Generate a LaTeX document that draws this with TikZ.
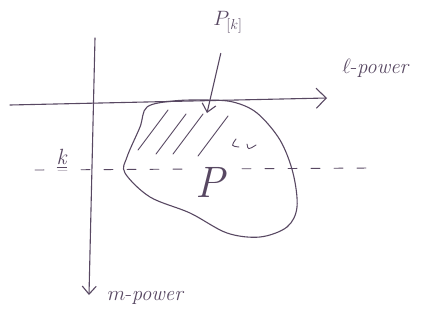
\documentclass[tikz,border=0pt]{standalone}
\usepackage{amsmath,amssymb}
\usepackage{tikz}
\usetikzlibrary{arrows.meta,positioning}
\usepackage{xcolor}
\definecolor{pen}{RGB}{88,72,98}

\begin{document}
\begin{tikzpicture}[
  x=1pt, y=-1pt,
  stroke/.style={draw=pen, line width=1.1pt, line cap=round, line join=round},
  axis/.style={stroke, -{Straight Barb[length=10pt,width=20pt,line width=1.1pt]}},
  hatch/.style={draw=pen, line width=0.9pt, line cap=round},
  handlabel/.style={text=pen, font=\huge, inner sep=1pt},
]
\useasboundingbox (0,0) rectangle (430,326);

% axes
\coordinate (hstart) at (10,105);
\coordinate (hend) at (327,98);
\coordinate (vstart) at (95,38);
\coordinate (vend) at (89,295);
\draw[axis] (hstart) -- (hend);
\draw[stroke, -{Straight Barb[length=8pt,width=14pt,line width=1.1pt]}] (vstart) -- (vend);
\node[handlabel] (lpower) at (376,68) {$\ell$-\textit{power}};
\node[handlabel] (mpower) at (146,298) {$m$-\textit{power}};

% level k
\draw[hatch, dash pattern=on 9pt off 14pt] (35,170) -- (372,168);
\node[handlabel, font=\fontsize{22}{22}\selectfont, fill=white, anchor=south] (kval) at (62,170) {\underline{\textit{k}}};

% region P
\draw[stroke] plot[smooth cycle, tension=0.55] coordinates {
  (147,107) (173,101) (205,100) (233,102) (257,113) (280,140)
  (293,173) (297,207) (287,227) (260,237) (227,233) (190,213)
  (150,197) (125,173) (127,157) (140,127)};
\node[handlabel, font=\fontsize{44}{44}\selectfont, fill=white, inner sep=2pt] (preg) at (211,182) {\textit{P}};

% hatched part P_[k]
\foreach \a/\b in {168/110, 186/114, 203/114, 228/116} {
  \draw[hatch] (\a,\b) -- ++(-30,40);
}
\draw[hatch] (236,139) .. controls (231,146) .. (239,147);
\draw[hatch] (247,144) .. controls (248,150) .. (256,145);

% label P_[k]
\node[handlabel] (pk) at (228,22) {$P_{[k]}$};
\coordinate (ptop) at (207,113);
\draw[stroke, -{Straight Barb[length=8pt,width=14pt,line width=1.1pt]}, shorten <=20pt] (pk) -- (ptop);
\end{tikzpicture}
\end{document}
